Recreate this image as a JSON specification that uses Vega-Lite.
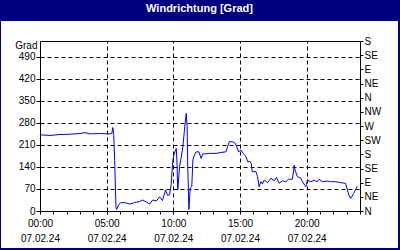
{
  "$schema": "https://vega.github.io/schema/vega-lite/v6.json",
  "width": 397,
  "height": 227,
  "autosize": {"type": "none"},
  "padding": {"left": 1, "top": 21, "right": 2, "bottom": 2},
  "background": "#000080",
  "title": {"text": "Windrichtung [Grad]", "color": "white", "font": "Liberation Sans", "fontSize": 11, "fontWeight": "bold", "anchor": "middle", "frame": "group", "offset": 7},
  "config": {
    "view": {"fill": "white", "stroke": null},
    "axis": {"labelFont": "Liberation Sans", "labelFontSize": 10, "labelColor": "black", "domainColor": "black", "tickColor": "black", "gridColor": "black", "gridDash": [4, 3], "gridWidth": 1, "gridOpacity": 1, "labelFlush": false, "labelOverlap": false, "labelBound": false}
  },
  "data": {"values": [
    {"time": "2024-02-07T00:00", "deg": 242},
    {"time": "2024-02-07T00:45", "deg": 240},
    {"time": "2024-02-07T01:30", "deg": 243},
    {"time": "2024-02-07T02:15", "deg": 244},
    {"time": "2024-02-07T03:00", "deg": 246},
    {"time": "2024-02-07T03:22", "deg": 249},
    {"time": "2024-02-07T03:44", "deg": 245},
    {"time": "2024-02-07T04:29", "deg": 246},
    {"time": "2024-02-07T05:14", "deg": 245},
    {"time": "2024-02-07T05:23", "deg": 246},
    {"time": "2024-02-07T05:28", "deg": 265},
    {"time": "2024-02-07T05:32", "deg": 240},
    {"time": "2024-02-07T05:36", "deg": 160},
    {"time": "2024-02-07T05:42", "deg": 10},
    {"time": "2024-02-07T05:45", "deg": 5},
    {"time": "2024-02-07T05:54", "deg": 20},
    {"time": "2024-02-07T06:03", "deg": 26},
    {"time": "2024-02-07T06:21", "deg": 27},
    {"time": "2024-02-07T06:44", "deg": 22},
    {"time": "2024-02-07T07:06", "deg": 27},
    {"time": "2024-02-07T07:28", "deg": 30},
    {"time": "2024-02-07T07:42", "deg": 35},
    {"time": "2024-02-07T08:00", "deg": 28},
    {"time": "2024-02-07T08:13", "deg": 22},
    {"time": "2024-02-07T08:27", "deg": 35},
    {"time": "2024-02-07T08:44", "deg": 32},
    {"time": "2024-02-07T08:58", "deg": 45},
    {"time": "2024-02-07T09:11", "deg": 33},
    {"time": "2024-02-07T09:25", "deg": 67},
    {"time": "2024-02-07T09:34", "deg": 50},
    {"time": "2024-02-07T09:43", "deg": 51},
    {"time": "2024-02-07T09:50", "deg": 83},
    {"time": "2024-02-07T09:58", "deg": 162},
    {"time": "2024-02-07T10:05", "deg": 184},
    {"time": "2024-02-07T10:13", "deg": 199},
    {"time": "2024-02-07T10:16", "deg": 162},
    {"time": "2024-02-07T10:20", "deg": 67},
    {"time": "2024-02-07T10:28", "deg": 141},
    {"time": "2024-02-07T10:35", "deg": 168},
    {"time": "2024-02-07T10:43", "deg": 204},
    {"time": "2024-02-07T10:50", "deg": 257},
    {"time": "2024-02-07T10:58", "deg": 310},
    {"time": "2024-02-07T11:02", "deg": 268},
    {"time": "2024-02-07T11:05", "deg": 141},
    {"time": "2024-02-07T11:10", "deg": 5},
    {"time": "2024-02-07T11:16", "deg": 73},
    {"time": "2024-02-07T11:23", "deg": 77},
    {"time": "2024-02-07T11:28", "deg": 162},
    {"time": "2024-02-07T11:35", "deg": 178},
    {"time": "2024-02-07T11:43", "deg": 188},
    {"time": "2024-02-07T11:55", "deg": 188},
    {"time": "2024-02-07T12:05", "deg": 167},
    {"time": "2024-02-07T12:12", "deg": 181},
    {"time": "2024-02-07T12:43", "deg": 183},
    {"time": "2024-02-07T13:13", "deg": 183},
    {"time": "2024-02-07T13:35", "deg": 186},
    {"time": "2024-02-07T13:57", "deg": 188},
    {"time": "2024-02-07T14:04", "deg": 204},
    {"time": "2024-02-07T14:12", "deg": 220},
    {"time": "2024-02-07T14:27", "deg": 220},
    {"time": "2024-02-07T14:39", "deg": 215},
    {"time": "2024-02-07T14:45", "deg": 204},
    {"time": "2024-02-07T14:54", "deg": 188},
    {"time": "2024-02-07T15:04", "deg": 194},
    {"time": "2024-02-07T15:15", "deg": 183},
    {"time": "2024-02-07T15:27", "deg": 172},
    {"time": "2024-02-07T15:34", "deg": 157},
    {"time": "2024-02-07T15:45", "deg": 157},
    {"time": "2024-02-07T15:51", "deg": 150},
    {"time": "2024-02-07T15:55", "deg": 125},
    {"time": "2024-02-07T16:12", "deg": 125},
    {"time": "2024-02-07T16:19", "deg": 109},
    {"time": "2024-02-07T16:26", "deg": 77},
    {"time": "2024-02-07T16:34", "deg": 93},
    {"time": "2024-02-07T16:41", "deg": 86},
    {"time": "2024-02-07T16:49", "deg": 98},
    {"time": "2024-02-07T17:04", "deg": 90},
    {"time": "2024-02-07T17:19", "deg": 104},
    {"time": "2024-02-07T17:34", "deg": 96},
    {"time": "2024-02-07T17:44", "deg": 107},
    {"time": "2024-02-07T17:56", "deg": 88},
    {"time": "2024-02-07T18:11", "deg": 96},
    {"time": "2024-02-07T18:26", "deg": 93},
    {"time": "2024-02-07T18:38", "deg": 101},
    {"time": "2024-02-07T18:56", "deg": 101},
    {"time": "2024-02-07T19:04", "deg": 146},
    {"time": "2024-02-07T19:08", "deg": 130},
    {"time": "2024-02-07T19:18", "deg": 109},
    {"time": "2024-02-07T19:34", "deg": 104},
    {"time": "2024-02-07T19:41", "deg": 93},
    {"time": "2024-02-07T19:56", "deg": 77},
    {"time": "2024-02-07T19:59", "deg": 84},
    {"time": "2024-02-07T20:03", "deg": 98},
    {"time": "2024-02-07T20:19", "deg": 93},
    {"time": "2024-02-07T20:33", "deg": 98},
    {"time": "2024-02-07T20:48", "deg": 93},
    {"time": "2024-02-07T20:56", "deg": 101},
    {"time": "2024-02-07T21:10", "deg": 93},
    {"time": "2024-02-07T21:33", "deg": 95},
    {"time": "2024-02-07T21:48", "deg": 93},
    {"time": "2024-02-07T22:10", "deg": 93},
    {"time": "2024-02-07T22:33", "deg": 90},
    {"time": "2024-02-07T22:55", "deg": 88},
    {"time": "2024-02-07T23:10", "deg": 51},
    {"time": "2024-02-07T23:18", "deg": 40},
    {"time": "2024-02-07T23:32", "deg": 56},
    {"time": "2024-02-07T23:43", "deg": 72},
    {"time": "2024-02-07T23:48", "deg": 79}
  ]},
  "layer": [
    {
      "mark": {"type": "line", "color": "#0000ff", "strokeWidth": 1},
      "encoding": {
        "x": {
          "field": "time", "type": "temporal",
          "scale": {"domain": [{"year": 2024, "month": 2, "date": 7, "hours": 0}, {"year": 2024, "month": 2, "date": 8, "hours": 0}], "range": [39, 359]},
          "axis": {
            "orient": "bottom", "offset": -37, "title": null, "grid": false,
            "values": [
              {"year": 2024, "month": 2, "date": 7, "hours": 0},
              {"year": 2024, "month": 2, "date": 7, "hours": 1},
              {"year": 2024, "month": 2, "date": 7, "hours": 2},
              {"year": 2024, "month": 2, "date": 7, "hours": 3},
              {"year": 2024, "month": 2, "date": 7, "hours": 4},
              {"year": 2024, "month": 2, "date": 7, "hours": 5},
              {"year": 2024, "month": 2, "date": 7, "hours": 6},
              {"year": 2024, "month": 2, "date": 7, "hours": 7},
              {"year": 2024, "month": 2, "date": 7, "hours": 8},
              {"year": 2024, "month": 2, "date": 7, "hours": 9},
              {"year": 2024, "month": 2, "date": 7, "hours": 10},
              {"year": 2024, "month": 2, "date": 7, "hours": 11},
              {"year": 2024, "month": 2, "date": 7, "hours": 12},
              {"year": 2024, "month": 2, "date": 7, "hours": 13},
              {"year": 2024, "month": 2, "date": 7, "hours": 14},
              {"year": 2024, "month": 2, "date": 7, "hours": 15},
              {"year": 2024, "month": 2, "date": 7, "hours": 16},
              {"year": 2024, "month": 2, "date": 7, "hours": 17},
              {"year": 2024, "month": 2, "date": 7, "hours": 18},
              {"year": 2024, "month": 2, "date": 7, "hours": 19},
              {"year": 2024, "month": 2, "date": 7, "hours": 20},
              {"year": 2024, "month": 2, "date": 7, "hours": 21},
              {"year": 2024, "month": 2, "date": 7, "hours": 22},
              {"year": 2024, "month": 2, "date": 7, "hours": 23},
              {"year": 2024, "month": 2, "date": 8, "hours": 0}
            ],
            "tickSize": 3, "labelPadding": 4, "labelLineHeight": 15,
            "labelExpr": "(hours(datum.value) % 5 == 0 && date(datum.value) == 7) ? [timeFormat(datum.value, '%H:%M'), timeFormat(datum.value, '%d.%m.%y')] : ''"
          }
        },
        "y": {
          "field": "deg", "type": "quantitative",
          "scale": {"domain": [0, 540], "range": [190, 20], "nice": false},
          "axis": {
            "orient": "left", "offset": -39,
            "values": [0, 70, 140, 210, 280, 350, 420, 490],
            "tickSize": 4, "labelPadding": 1, "grid": true,
            "title": "Grad", "titleAngle": 0, "titleAlign": "right", "titleBaseline": "middle",
            "titleX": -3, "titleY": 24, "titleFont": "Liberation Sans", "titleFontSize": 10, "titleFontWeight": "normal", "titleColor": "black"
          }
        }
      }
    },
    {
      "mark": {"type": "line", "strokeOpacity": 0},
      "encoding": {
        "x": {
          "field": "time", "type": "temporal",
          "scale": {"domain": [{"year": 2024, "month": 2, "date": 7, "hours": 0}, {"year": 2024, "month": 2, "date": 8, "hours": 0}], "range": [39, 359]},
          "axis": {
            "orient": "top", "offset": -20, "title": null, "labels": false, "ticks": false, "grid": true, "domain": true,
            "values": [
              {"year": 2024, "month": 2, "date": 7, "hours": 5},
              {"year": 2024, "month": 2, "date": 7, "hours": 10},
              {"year": 2024, "month": 2, "date": 7, "hours": 15},
              {"year": 2024, "month": 2, "date": 7, "hours": 20}
            ]
          }
        },
        "y": {
          "field": "deg", "type": "quantitative",
          "scale": {"domain": [0, 540], "range": [190, 20], "nice": false},
          "axis": {
            "orient": "right", "offset": -38, "title": null, "grid": false,
            "values": [0, 45, 90, 135, 180, 225, 270, 315, 360, 405, 450, 495, 540],
            "tickSize": 3, "labelPadding": 1,
            "labelExpr": "['N','NE','E','SE','S','SW','W','NW'][round(datum.value / 45) % 8]"
          }
        }
      }
    }
  ],
  "resolve": {"axis": {"x": "independent", "y": "independent"}}
}
